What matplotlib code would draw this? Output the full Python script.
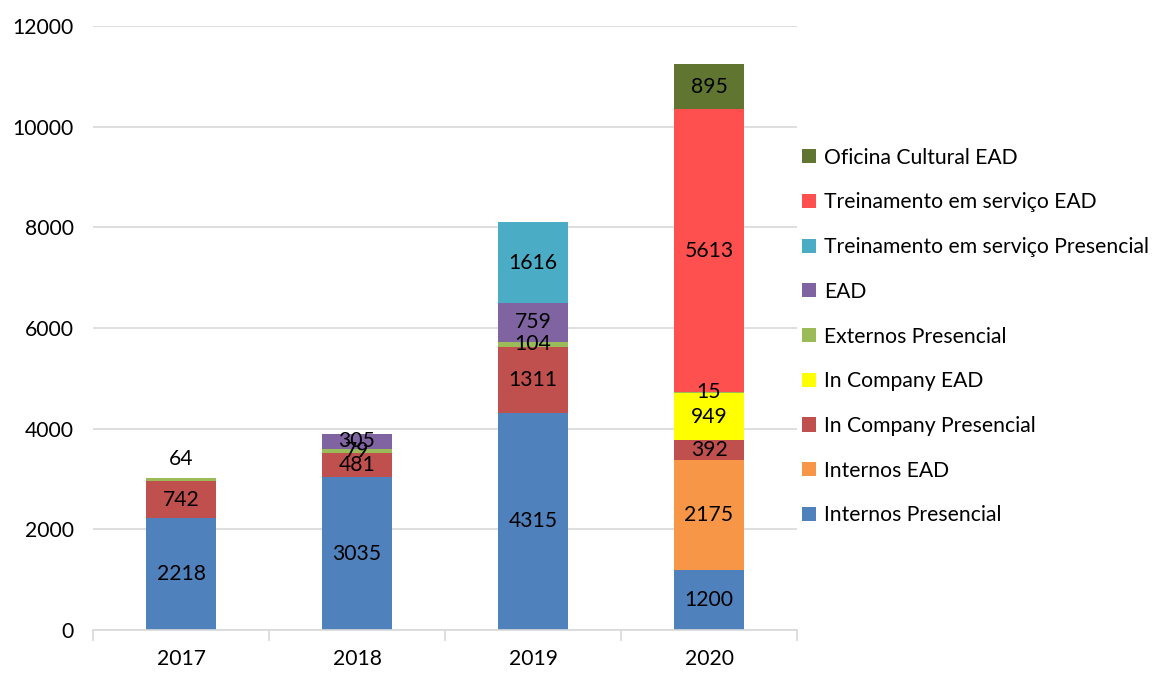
import matplotlib.pyplot as plt
import numpy as np

plt.rcParams['font.family'] = ['Lato', 'DejaVu Sans']

years = ['2017', '2018', '2019', '2020']
series = [
    'Internos Presencial',
    'Internos EAD',
    'In Company Presencial',
    'In Company EAD',
    'Externos Presencial',
    'EAD',
    'Treinamento em serviço Presencial',
    'Treinamento em serviço EAD',
    'Oficina Cultural EAD',
]
internos_presencial = [2218, 3035, 4315, 1200]
internos_ead = [0, 0, 0, 2175]
in_company_presencial = [742, 481, 1311, 392]
in_company_ead = [0, 0, 0, 949]
externos_presencial = [64, 79, 104, 15]
ead = [0, 305, 759, 0]
treinamento_presencial = [0, 0, 1616, 0]
treinamento_ead = [0, 0, 0, 5613]
oficina_cultural_ead = [0, 0, 0, 895]

values = [internos_presencial, internos_ead, in_company_presencial,
          in_company_ead, externos_presencial, ead, treinamento_presencial,
          treinamento_ead, oficina_cultural_ead]
colors = ['#4F81BD', '#F79646', '#C0504D', '#FFFF00', '#9BBB59',
          '#8064A2', '#4BACC6', '#FF5050', '#5F7530']

FS = 15.2

fig = plt.figure(figsize=(11.67, 6.73), dpi=100)
ax = fig.add_axes([0.0797, 0.0639, 0.6033, 0.8975])

x = np.arange(len(years))
bottom = np.zeros(len(years))
for name, vals, col in zip(series, values, colors):
    vals = np.array(vals, dtype=float)
    bars = ax.bar(x, vals, 0.4, bottom=bottom, color=col, label=name, zorder=2)
    labels = [str(int(v)) if v > 0 else '' for v in vals]
    if name == 'Externos Presencial':
        # 2017 small segment label sits above the bar
        labels[0] = ''
        ax.text(x[0], bottom[0] + vals[0] + 380, str(int(vals[0])),
                ha='center', va='center', fontsize=FS)
    ax.bar_label(bars, labels=labels, label_type='center', fontsize=FS)
    bottom += vals

ax.set_xlim(-0.5, 3.5)
ax.set_ylim(0, 12000)
ax.set_yticks(range(0, 12001, 2000))
ax.yaxis.grid(True, color='#D9D9D9', linewidth=1.2, zorder=0)
ax.set_axisbelow(True)

ax.set_xticks(np.arange(-0.5, 4, 1))
ax.set_xticklabels([])
ax.set_xticks(x, minor=True)
ax.set_xticklabels(years, minor=True)
ax.tick_params(axis='x', which='major', length=8, color='#D9D9D9', width=1.2)
ax.tick_params(axis='x', which='minor', length=0, labelsize=FS, pad=14)
ax.tick_params(axis='y', length=0, labelsize=FS, pad=14)

for s in ['top', 'right', 'left']:
    ax.spines[s].set_visible(False)
ax.spines['bottom'].set_color('#D9D9D9')
ax.spines['bottom'].set_linewidth(1.2)

h, l = ax.get_legend_handles_labels()
fig.legend(h[::-1], l[::-1], loc='center left', bbox_to_anchor=(0.671, 0.5),
           frameon=False, fontsize=FS, handlelength=0.65, handleheight=0.65,
           handletextpad=0.4, labelspacing=1.17)

fig.savefig('out.png', dpi=100)
